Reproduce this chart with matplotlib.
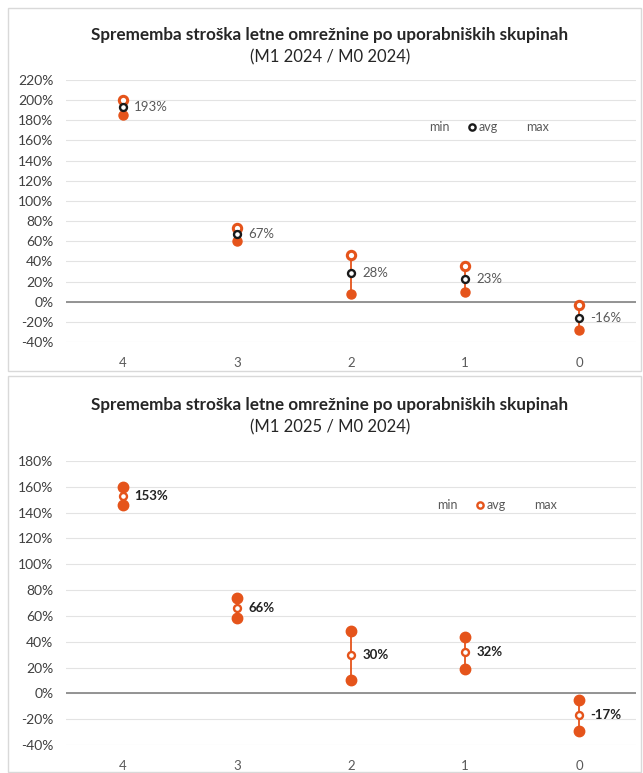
import matplotlib
matplotlib.use("Agg")
import matplotlib.pyplot as plt
from matplotlib.lines import Line2D
from matplotlib.patches import Rectangle

plt.rcParams['font.family'] = ['Lato', 'DejaVu Sans']

categories = ["4", "3", "2", "1", "0"]

# Chart 1: M1 2024 / M0 2024 (percent)
max_2024 = [200, 73, 46, 35, -3]
avg_2024 = [193, 67, 28, 23, -16]
min_2024 = [185, 60, 8, 10, -28]

# Chart 2: M1 2025 / M0 2024 (percent)
max_2025 = [160, 74, 48, 44, -5]
avg_2025 = [153, 66, 30, 32, -17]
min_2025 = [146, 58, 10, 19, -29]

title_main = "Sprememba stroška letne omrežnine po uporabniških skupinah"
sub1 = "(M1 2024 / M0 2024)"
sub2 = "(M1 2025 / M0 2024)"

ORANGE = "#E5541B"
GRAY_TXT = "#595959"

W, H = 643, 773
fig = plt.figure(figsize=(W / 100, H / 100), dpi=100)

def fx(px):
    return px / W

def fy(py):
    return 1 - py / H

# panel frames
fig.patches.append(Rectangle((fx(8), fy(371)), fx(633), fy(8) - fy(371),
                             transform=fig.transFigure, fill=False,
                             edgecolor="#d9d9d9", lw=1.0))
fig.patches.append(Rectangle((fx(8), fy(772)), fx(633), fy(376) - fy(772),
                             transform=fig.transFigure, fill=False,
                             edgecolor="#d9d9d9", lw=1.0))


def draw(ax, mx, av, mn, yticks, ylim, avg_style, label_bold, max_filled, ms):
    x = list(range(len(categories)))
    ax.set_xlim(-0.5, len(categories) - 0.5)
    ax.set_ylim(*ylim)
    for s in ax.spines.values():
        s.set_visible(False)
    ax.set_yticks(yticks)
    ax.set_yticklabels([f"{t}%" for t in yticks], fontsize=10, color="#404040")
    ax.set_xticks(x)
    ax.set_xticklabels(categories, fontsize=9.5, color=GRAY_TXT)
    ax.tick_params(length=0)
    ax.tick_params(axis='y', pad=9)
    ax.tick_params(axis='x', pad=11)
    ax.grid(axis='y', color="#e3e3e3", lw=0.8)
    ax.set_axisbelow(True)
    ax.axhline(0, color="#8c8c8c", lw=1.3, zorder=1)
    # high-low lines
    for xi, a, b in zip(x, mn, mx):
        ax.plot([xi, xi], [a, b], color=ORANGE, lw=1.3, zorder=2, clip_on=False)
    # min filled
    ax.plot(x, mn, 'o', ms=ms, color=ORANGE, mec=ORANGE, ls='none', zorder=3, clip_on=False)
    # max
    if max_filled:
        ax.plot(x, mx, 'o', ms=ms, color=ORANGE, mec=ORANGE, ls='none', zorder=3, clip_on=False)
    else:
        ax.plot(x, mx, 'o', ms=ms - 0.5, mfc="white", mec=ORANGE, mew=2.2, ls='none', zorder=3, clip_on=False)
    # avg
    ax.plot(x, av, 'o', ms=5, mfc="white", mec=avg_style, mew=1.7, ls='none', zorder=4, clip_on=False)
    for xi, a in zip(x, av):
        ax.annotate(f"{a}%", (xi, a), xytext=(8, 0), textcoords="offset points",
                    va="center", ha="left", fontsize=9.5,
                    fontweight="bold" if label_bold else "normal",
                    color="#222222" if label_bold else GRAY_TXT)
    handles = [Line2D([], [], ls='none', marker='none'),
               Line2D([], [], ls='none', marker='o', ms=4.5, mfc="white", mec=avg_style, mew=1.7),
               Line2D([], [], ls='none', marker='none')]
    return handles


# top chart
ax1 = fig.add_axes([fx(66), fy(342), fx(636) - fx(66), fy(80) - fy(342)])
h1 = draw(ax1, max_2024, avg_2024, min_2024, list(range(-40, 221, 20)), (-40, 220),
          "#1a1a1a", False, False, 6.5)
ax1.legend(h1, ["min", "avg", "max"], ncol=3, frameon=False, fontsize=9,
           labelcolor=GRAY_TXT, handlelength=0.6, handletextpad=0.2, columnspacing=1.5,
           loc="center", bbox_to_anchor=(fx(484), fy(127)), bbox_transform=fig.transFigure)
fig.text(fx(330), fy(35), title_main, ha="center", va="center", fontsize=12.3,
         fontweight="bold", color="#262626")
fig.text(fx(330), fy(57), sub1, ha="center", va="center", fontsize=12, color="#262626")

# bottom chart
ax2 = fig.add_axes([fx(66), fy(745), fx(636) - fx(66), fy(461) - fy(745)])
h2 = draw(ax2, max_2025, avg_2025, min_2025, list(range(-40, 181, 20)), (-40, 180),
          ORANGE, True, True, 7.5)
ax2.legend(h2, ["min", "avg", "max"], ncol=3, frameon=False, fontsize=9,
           labelcolor=GRAY_TXT, handlelength=0.6, handletextpad=0.2, columnspacing=1.5,
           loc="center", bbox_to_anchor=(fx(492), fy(505)), bbox_transform=fig.transFigure)
fig.text(fx(330), fy(405), title_main, ha="center", va="center", fontsize=12.3,
         fontweight="bold", color="#262626")
fig.text(fx(330), fy(427), sub2, ha="center", va="center", fontsize=12, color="#262626")

fig.savefig("out.png", dpi=100)
